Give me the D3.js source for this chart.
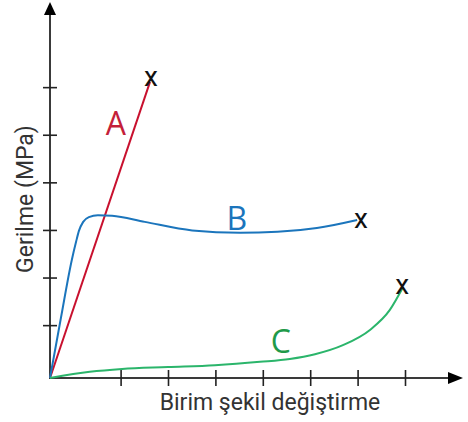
<!DOCTYPE html>
<html>
<head>
<meta charset="utf-8">
<script src="https://cdn.jsdelivr.net/npm/d3@7"></script>
<style>
  html, body { margin: 0; padding: 0; background: #fff; }
  svg { display: block; }
</style>
</head>
<body>
<svg id="chart" width="468" height="422"></svg>
<script>
// data (in axis units)
const xTicks = [1.5, 2.5, 3.5, 4.5, 5.5, 6.5, 7.5];
const yTicks = [1.1, 2.1, 3.1, 4.1, 5.1, 6.1];

const curveA = [[0, 0], [2.11, 6.22]];
const curveB = [
  [0, 0], [0.23, 1.26], [0.46, 2.48], [0.55, 2.86], [0.61, 3.09],
  [0.7, 3.28], [0.82, 3.38], [1.01, 3.42], [1.31, 3.41],
  [2.0, 3.28], [3.0, 3.1], [4.01, 3.05], [4.8, 3.07],
  [5.63, 3.15], [6.48, 3.32]
];
const curveC = [
  [0, 0], [0.84, 0.13], [1.52, 0.19], [2.49, 0.23], [3.48, 0.27],
  [4.43, 0.34], [5.06, 0.4], [5.59, 0.5], [6.18, 0.69], [6.75, 1.01],
  [7.17, 1.43], [7.45, 1.91]
];

const seriesNames = ["A", "B", "C"];
const lineColors = ["#c8102e", "#1b75bc", "#2bb56b"];
const labelColors = ["#c41f3a", "#1b75bc", "#1f9a4a"];
const labelPos = [[1.39, 5.1], [3.94, 3.1], [4.87, 0.52]];
const breakPos = [[2.13, 6.3], [6.56, 3.3], [7.43, 1.93]];

const xTitle = "Birim şekil değiştirme";
const yTitle = "Gerilme (MPa)";

// layout
const svg = d3.select("#chart");
const x = d3.scaleLinear().domain([0, 413 / 47.4]).range([50, 463]);
const y = d3.scaleLinear().domain([0, 375 / 47.6]).range([378, 3]);
const axisColor = "#3a3a3a";

// x axis
svg.append("line")
  .attr("x1", x(0)).attr("x2", x.range()[1] - 4)
  .attr("y1", y(0)).attr("y2", y(0))
  .attr("stroke", axisColor).attr("stroke-width", 2);
svg.append("path")
  .attr("d", `M${x.range()[1]},${y(0)} L${x.range()[1] - 15},${y(0) - 6} L${x.range()[1] - 15},${y(0) + 6} Z`)
  .attr("fill", "#000");
svg.selectAll(".xtick")
  .data(xTicks)
  .enter()
  .append("line")
  .attr("class", "xtick")
  .attr("x1", (d) => x(d)).attr("x2", (d) => x(d))
  .attr("y1", y(0) - 8).attr("y2", y(0) + 8)
  .attr("stroke", "#222").attr("stroke-width", 1.6);

// y axis
svg.append("line")
  .attr("x1", x(0)).attr("x2", x(0))
  .attr("y1", y(0) + 1).attr("y2", y.range()[1] + 4)
  .attr("stroke", axisColor).attr("stroke-width", 2);
svg.append("path")
  .attr("d", `M${x(0)},${y.range()[1] - 1} L${x(0) - 6},${y.range()[1] + 12} L${x(0) + 6},${y.range()[1] + 12} Z`)
  .attr("fill", "#000");
svg.selectAll(".ytick")
  .data(yTicks)
  .enter()
  .append("line")
  .attr("class", "ytick")
  .attr("x1", x(0) - 7).attr("x2", x(0) + 7)
  .attr("y1", (d) => y(d)).attr("y2", (d) => y(d))
  .attr("stroke", "#222").attr("stroke-width", 1.6);

// curves
const line = d3.line()
  .x((d) => x(d[0]))
  .y((d) => y(d[1]))
  .curve(d3.curveMonotoneX);

[curveA, curveB, curveC].forEach((data, i) => {
  svg.append("path")
    .datum(data)
    .attr("d", line)
    .attr("fill", "none")
    .attr("stroke", lineColors[i])
    .attr("stroke-width", 2);
});

// break marks
svg.selectAll(".brk")
  .data(breakPos)
  .enter()
  .append("text")
  .attr("class", "brk")
  .attr("x", (d) => x(d[0]))
  .attr("y", (d) => y(d[1]))
  .attr("dy", "0.27em")
  .attr("text-anchor", "middle")
  .attr("font-family", "Roboto, sans-serif")
  .attr("font-size", 28)
  .attr("fill", "#111")
  .text("x");

// series labels
svg.selectAll(".lbl")
  .data(seriesNames)
  .enter()
  .append("text")
  .attr("class", "lbl")
  .attr("x", (d, i) => x(labelPos[i][0]))
  .attr("y", (d, i) => y(labelPos[i][1]))
  .attr("text-anchor", "middle")
  .attr("font-family", "'Open Sans', sans-serif")
  .attr("font-size", 32)
  .attr("fill", (d, i) => labelColors[i])
  .text((d) => d);

// axis titles
svg.append("text")
  .attr("x", 270)
  .attr("y", 410)
  .attr("text-anchor", "middle")
  .attr("font-family", "Roboto, sans-serif")
  .attr("font-size", 23)
  .attr("fill", "#333")
  .text(xTitle);

svg.append("text")
  .attr("transform", "rotate(-90)")
  .attr("x", -199)
  .attr("y", 33)
  .attr("text-anchor", "middle")
  .attr("font-family", "Roboto, sans-serif")
  .attr("font-size", 23)
  .attr("fill", "#333")
  .text(yTitle);
</script>
</body>
</html>
